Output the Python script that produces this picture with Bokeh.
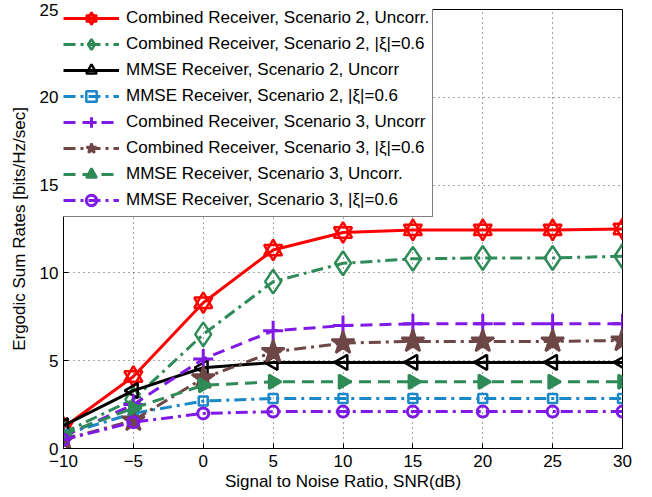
from bokeh.plotting import figure
from bokeh.models import Legend, LegendItem, FixedTicker, Range1d
from bokeh.embed import file_html
from bokeh.resources import INLINE
import numpy as np

snr = [-10, -5, 0, 5, 10, 15, 20, 25, 30]

comb_s2_unc = [1.2, 4.1, 8.3, 11.3, 12.3, 12.45, 12.45, 12.45, 12.5]
comb_s2_corr = [0.9, 2.8, 6.5, 9.5, 10.55, 10.8, 10.85, 10.85, 10.95]
mmse_s2_unc = [1.3, 3.3, 4.6, 4.9, 4.9, 4.9, 4.9, 4.9, 4.9]
mmse_s2_corr = [0.8, 2.0, 2.7, 2.85, 2.85, 2.85, 2.85, 2.85, 2.85]
comb_s3_unc = [0.7, 2.5, 5.1, 6.7, 7.0, 7.1, 7.1, 7.1, 7.1]
comb_s3_corr = [0.5, 1.6, 4.0, 5.5, 6.0, 6.1, 6.1, 6.1, 6.15]
mmse_s3_unc = [0.8, 2.3, 3.6, 3.8, 3.8, 3.8, 3.8, 3.8, 3.8]
mmse_s3_corr = [0.5, 1.5, 2.0, 2.1, 2.1, 2.1, 2.1, 2.1, 2.1]

labels = [
    "Combined Receiver, Scenario 2, Uncorr.",
    "Combined Receiver, Scenario 2, |\u03be|=0.6",
    "MMSE Receiver, Scenario 2, Uncorr",
    "MMSE Receiver, Scenario 2, |\u03be|=0.6",
    "Combined Receiver, Scenario 3, Uncorr",
    "Combined Receiver, Scenario 3, |\u03be|=0.6",
    "MMSE Receiver, Scenario 3, Uncorr.",
    "MMSE Receiver, Scenario 3, |\u03be|=0.6",
]

FONT = "Liberation Sans"
RED = "#ff0000"
GREEN = "#2e8b57"
BLUE = "#1a87c9"
PURPLE = "#8019e6"
BROWN = "#6e4646"
DASH = "12 7"
DASHDOT = "12 5 3 5"

p = figure(width=640, height=496, output_backend="svg", toolbar_location=None,
           x_range=Range1d(-10, 30), y_range=Range1d(0, 25),
           min_border_left=63, min_border_right=18, min_border_top=9, min_border_bottom=48)
p.background_fill_color = "white"
p.border_fill_color = "white"
p.outline_line_color = "black"
p.outline_line_width = 1
p.outline_line_alpha = 1

for ax in (p.xaxis[0], p.yaxis[0]):
    ax.major_label_text_font = FONT
    ax.major_label_text_font_size = "17px"
    ax.major_label_text_color = "black"
    ax.axis_label_text_font = FONT
    ax.axis_label_text_font_size = "17px"
    ax.axis_label_text_font_style = "normal"
    ax.axis_label_text_color = "black"
    ax.major_tick_in = 5
    ax.major_tick_out = 0
    ax.minor_tick_in = 0
    ax.minor_tick_out = 0
    ax.axis_line_color = "black"
    ax.major_tick_line_color = "black"

p.xaxis.ticker = FixedTicker(ticks=list(range(-10, 31, 5)))
p.yaxis.ticker = FixedTicker(ticks=list(range(0, 26, 5)))
p.xaxis.major_label_overrides = {-10: "\u221210", -5: "\u22125"}
p.xaxis.axis_label = "Signal to Noise Ratio, SNR(dB)"
p.yaxis.axis_label = "Ergodic Sum Rates [bits/Hz/sec]"
p.xaxis.major_label_standoff = 6
p.yaxis.major_label_standoff = 5
p.xaxis.axis_label_standoff = 2
p.yaxis.axis_label_standoff = 8

p.xgrid.grid_line_color = "black"
p.ygrid.grid_line_color = "black"
p.xgrid.grid_line_dash = "1 4"
p.ygrid.grid_line_dash = "1 4"
p.xgrid.grid_line_alpha = 0.7
p.ygrid.grid_line_alpha = 0.7

LW = 3
items = []

def add(y, color, dash, markers, label):
    rs = [p.line(snr, y, line_color=color, line_width=LW, line_dash=dash)]
    for m in markers:
        kw = dict(m)
        rs.append(p.scatter(snr, y, line_color=color, line_width=kw.pop("lw", 2.5), **kw))
    items.append(LegendItem(label=label, renderers=rs))

add(comb_s2_unc, RED, "solid",
    [dict(marker="triangle", size=18, fill_color=None),
     dict(marker="inverted_triangle", size=18, fill_color=None)], labels[0])
add(comb_s2_corr, GREEN, DASHDOT,
    [dict(marker="diamond", size=24, fill_color=None)], labels[1])
add(mmse_s2_unc, "black", "solid",
    [dict(marker="triangle", size=15, angle=np.pi / 2, fill_color=None)], labels[2])
add(mmse_s2_corr, BLUE, DASHDOT,
    [dict(marker="square", size=9, fill_color=None)], labels[3])
add(comb_s3_unc, PURPLE, DASH,
    [dict(marker="cross", size=20, lw=3)], labels[4])
add(comb_s3_corr, BROWN, DASHDOT,
    [dict(marker="star", size=24, fill_color=BROWN)], labels[5])
add(mmse_s3_unc, GREEN, DASH,
    [dict(marker="triangle", size=14, angle=-np.pi / 2, fill_color=GREEN)], labels[6])
add(mmse_s3_corr, PURPLE, DASHDOT,
    [dict(marker="circle", size=11, fill_color=None, lw=3)], labels[7])

legend = Legend(items=items, location=(-4, 231))
legend.label_text_font = FONT
legend.label_text_font_size = "17px"
legend.label_text_color = "black"
legend.glyph_width = 56
legend.glyph_height = 26
legend.label_standoff = 7
legend.spacing = 0
legend.padding = 3
legend.margin = 0
legend.border_line_color = "black"
legend.border_line_width = 1
legend.background_fill_alpha = 1
p.add_layout(legend)

open("out.html", "w").write(file_html(p, INLINE))
